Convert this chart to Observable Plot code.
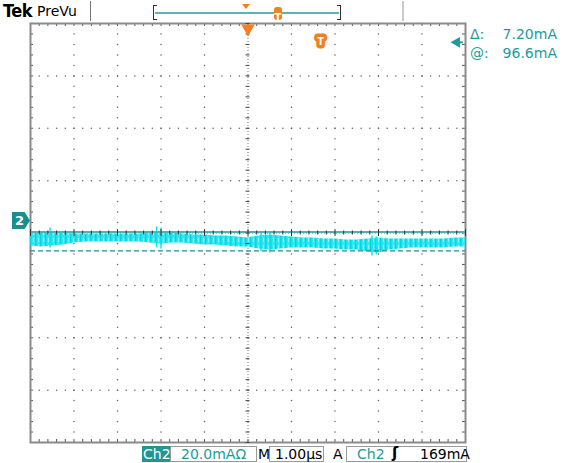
<!DOCTYPE html>
<html><head><meta charset="utf-8">
<script src="https://cdn.jsdelivr.net/npm/d3@7"></script>
<script src="https://cdn.jsdelivr.net/npm/@observablehq/plot@0.6"></script>
<style>
body{margin:0;background:#fff;font-family:"DejaVu Sans",sans-serif;}
#wrap{position:relative;width:563px;height:463px;overflow:hidden;background:#fff;}
#wrap svg{position:absolute;left:0;top:0;}
.ov{position:absolute;white-space:nowrap;line-height:1;}
</style></head><body><div id="wrap"></div>
<script>
// ---- data ----
const timeUs = [0,0.25,0.5,0.75,1,1.25,1.5,1.75,2,2.25,2.5,2.75,3,3.25,3.5,3.75,4,4.25,4.5,4.75,5,5.25,5.5,5.75,6,6.25,6.5,6.75,7,7.25,7.5,7.75,8,8.25,8.5,8.75,9,9.25,9.5,9.75,10];
const traceTop = [103.0,103.4,103.8,103.4,103.0,103.0,103.0,103.0,103.0,103.0,103.0,103.4,103.8,103.4,103.0,102.6,102.6,102.3,102.3,101.9,101.5,102.3,102.6,102.3,101.9,101.5,101.5,101.1,101.1,100.7,100.7,101.1,101.5,101.1,101.1,101.1,101.1,101.1,101.1,101.5,101.5];
const traceBottom = [98.4,98.1,98.4,98.8,99.6,100.0,100.0,100.0,100.0,100.0,100.0,99.6,99.2,99.6,99.6,99.2,98.8,98.8,98.4,98.1,98.1,97.3,96.9,97.3,97.7,97.7,97.7,97.3,97.3,96.9,96.9,96.2,95.8,96.9,97.3,97.7,97.7,97.7,97.7,98.1,98.1];
const spikeTime = [0.45,2.9,3.0,5.3,5.5,7.85,7.95];
const spikeTop = [105.3,105.7,105.3,103.8,103.4,102.3,101.9];
const spikeBottom = [97.7,97.7,97.3,96.2,95.8,94.6,95.0];
const cursorSolid = 103.8;   // mA
const cursorDashed = 96.6;   // mA
const readoutLabels = ["\u0394:", "@:"];
const readoutValues = ["7.20mA", "96.6mA"];
const ch2Level = 108.2;      // channel marker
const trigArrowLevel = 176.2;
const trigT = {t: 6.67, v: 176.5};
const scaleText = "20.0mA\u03A9";
const timeText = "1.00\u00B5s";
const trigText = "169mA";

// ---- layout ----
const W = 563, H = 463, mL = 30, mR = 98, mT = 23, mB = 21;
const xDom = [0, 10], yDom = [23.4, 183.4];
const pxX = (xDom[1]-xDom[0])/(W-mL-mR), pxY = (yDom[1]-yDom[0])/(H-mT-mB);
const yC = 103.4, xC = 5;
const xMajor = d3.range(0, 11);
const xMinor = d3.range(0, 51).map(k => k*0.2);
const yMajor = d3.range(0, 9).map(k => yDom[0] + 20*k);
const yMinor = d3.range(0, 41).map(k => yDom[0] + 4*k);
const dots = [];
for (const x of xMajor.slice(1,-1)) if (x !== xC) for (const y of yMinor) dots.push({x, y});
for (const y of yMajor.slice(1,-1)) if (Math.abs(y-yC) > 0.01) for (const x of xMinor) dots.push({x, y});

const trace = timeUs.map((t,i) => ({t, top: traceTop[i], bot: traceBottom[i]}));
const spikes = spikeTime.map((t,i) => ({t, top: spikeTop[i], bot: spikeBottom[i]}));
const TEAL = "#1f9a9a", ORANGE = "#f47f20", CYAN = "#14e2ee";
const isMajor = d => Math.abs(d - Math.round(d)) < 1e-6;

const plot = Plot.plot({
  width: W, height: H, marginLeft: mL, marginRight: mR, marginTop: mT, marginBottom: mB,
  x: {domain: xDom, axis: null}, y: {domain: yDom, axis: null},
  style: {background: "transparent"},
  marks: [
    Plot.dot(dots, {x: "x", y: "y", r: 0.75, fill: "#606060", stroke: null}),
    // centre cross
    Plot.ruleX([xC], {stroke: "#777", strokeWidth: 1, strokeDasharray: "1,2"}),
    Plot.ruleY([yC], {stroke: "#777", strokeWidth: 1, strokeDasharray: "1,2"}),
    // border ticks
    Plot.ruleX(xMinor, {x: d => d, y1: yDom[1], y2: yDom[1] - 3*pxY, stroke: "#555"}),
    Plot.ruleX(xMinor, {x: d => d, y1: yDom[0], y2: yDom[0] + 3*pxY, stroke: "#555"}),
    Plot.ruleY(yMinor, {y: d => d, x1: xDom[0], x2: xDom[0] + 3*pxX, stroke: "#555"}),
    Plot.ruleY(yMinor, {y: d => d, x1: xDom[1], x2: xDom[1] - 3*pxX, stroke: "#555"}),
    Plot.frame({stroke: "#8a8a8a", strokeWidth: 2}),
    // trace
    Plot.areaY(trace, {x: "t", y1: "bot", y2: "top", fill: "url(#traceHatch)", curve: "linear"}),
    Plot.ruleX(spikes, {x: "t", y1: "bot", y2: "top", stroke: CYAN, strokeWidth: 1.5}),
    // cursors
    Plot.ruleY([cursorSolid], {stroke: "#4cb3b3", strokeWidth: 2}),
    Plot.ruleY([cursorDashed], {stroke: "#1f8f8f", strokeWidth: 1.3, strokeDasharray: "5,3"}),
    // centre ticks (drawn over the trace like the scope graticule)
    Plot.ruleX(xMinor, {x: d => d, y1: d => yC - (isMajor(d) ? 3.5 : 2)*pxY, y2: d => yC + (isMajor(d) ? 3.5 : 2)*pxY, stroke: "#333", strokeWidth: 1}),
    Plot.ruleY(yMinor, {y: d => d, x1: xC - 2*pxX, x2: xC + 2*pxX, stroke: "#444", strokeWidth: 1}),
    // markers
    Plot.dot([xC], {x: d => d, y: yDom[1], dy: 5, symbol: "triangle", rotate: 180, r: 5, fill: ORANGE, stroke: null}),
    Plot.text(["T"], {x: trigT.t, y: trigT.v, fill: "white", stroke: ORANGE, strokeWidth: 7, fontWeight: "bold", fontSize: 11}),
    Plot.ruleY([trigArrowLevel], {x1: 9.8, x2: 9.95, stroke: TEAL, strokeWidth: 2}),
    Plot.dot([trigArrowLevel], {x: 9.8, y: d => d, symbol: "triangle", rotate: -90, r: 4, fill: TEAL, stroke: null})
  ]
});
// hatch pattern to imitate the sampled scope trace texture
const defs = d3.select(plot).insert("defs", ":first-child");
const pat = defs.append("pattern").attr("id", "traceHatch").attr("patternUnits", "userSpaceOnUse").attr("width", 5).attr("height", 7);
pat.append("rect").attr("width", 5).attr("height", 7).attr("fill", "#33e6f0");
pat.append("rect").attr("x", 0).attr("width", 1.5).attr("height", 7).attr("fill", "#00d6ea");
pat.append("rect").attr("x", 3).attr("y", 0).attr("width", 1).attr("height", 4).attr("fill", "#8ff2f7");

const wrap = document.getElementById("wrap");
wrap.appendChild(plot);
const ys = plot.scale("y");

function ov(html, css) { const d = document.createElement("div"); d.className = "ov"; d.innerHTML = html; Object.assign(d.style, css); wrap.appendChild(d); return d; }

// top bar
ov("Tek", {left: "3px", top: "2px", fontFamily: "'DejaVu Sans Condensed','DejaVu Sans'", fontWeight: "bold", fontSize: "18px", color: "#000", letterSpacing: "-0.5px"});
ov("PreVu", {left: "37px", top: "4px", fontSize: "14px", color: "#000"});
ov("", {left: "90px", top: "1px", width: "1px", height: "20px", background: "#777"});
ov("", {left: "402px", top: "1px", width: "2px", height: "20px", background: "#ccc"});
ov("", {left: "153px", top: "5px", width: "4px", height: "15px", borderLeft: "1.5px solid #333", borderTop: "1px solid #333", borderBottom: "1px solid #333", boxSizing: "border-box"});
ov("", {left: "337px", top: "5px", width: "4px", height: "15px", borderRight: "1.5px solid #333", borderTop: "1px solid #333", borderBottom: "1px solid #333", boxSizing: "border-box"});
ov("", {left: "155px", top: "12px", width: "184px", height: "2px", background: "#5ab4b4"});
ov("", {left: "242px", top: "4px", width: 0, height: 0, borderLeft: "4px solid transparent", borderRight: "4px solid transparent", borderTop: "5px solid " + ORANGE});
ov("<span style='color:#fff;font-weight:bold;font-size:10px'>T</span>", {left: "274px", top: "7px", width: "8px", height: "13px", background: ORANGE, borderRadius: "3px", textAlign: "center", paddingTop: "1px", boxSizing: "border-box"});

// readouts
readoutLabels.forEach((l, i) => {
  ov(l, {left: "470px", top: (27 + 19*i) + "px", fontSize: "14px", color: TEAL});
  ov(readoutValues[i], {right: (563-557) + "px", top: (27 + 19*i) + "px", fontSize: "14px", color: TEAL});
});

// channel marker
ov("2", {left: "12px", top: (ys.apply(ch2Level) - 8) + "px", width: "18px", height: "17px", background: "#178f8f", color: "#fff", fontWeight: "bold", fontSize: "13px", textAlign: "left", paddingLeft: "3px", paddingTop: "2px", boxSizing: "border-box", clipPath: "polygon(0 0,70% 0,100% 50%,70% 100%,0 100%)"});

// bottom bar
ov("Ch2", {left: "142px", top: "446px", width: "28px", height: "16px", background: "#1f9595", color: "#fff", fontSize: "14px", paddingTop: "1px", paddingLeft: "1px", boxSizing: "border-box"});
ov("", {left: "170px", top: "446px", width: "87px", height: "16px", border: "1px solid #9a9a9a", boxSizing: "border-box"});
ov(scaleText, {left: "181px", top: "447px", fontSize: "14px", color: TEAL});
ov("M", {left: "258px", top: "447px", fontSize: "14px", color: "#000"});
ov("", {left: "269px", top: "446px", width: "55px", height: "16px", border: "1px solid #9a9a9a", boxSizing: "border-box"});
ov(timeText, {left: "275px", top: "447px", fontSize: "14px", color: "#000"});
ov("A", {left: "333px", top: "447px", fontSize: "14px", color: "#000"});
ov("", {left: "346px", top: "446px", width: "121px", height: "16px", border: "1px solid #9a9a9a", boxSizing: "border-box"});
ov("Ch2", {left: "357px", top: "447px", fontSize: "14px", color: TEAL});
ov("\u0283", {left: "392px", top: "446px", fontSize: "15px", fontWeight: "bold", color: "#000"});
ov(trigText, {left: "420px", top: "447px", fontSize: "14px", color: "#000"});
</script></body></html>
